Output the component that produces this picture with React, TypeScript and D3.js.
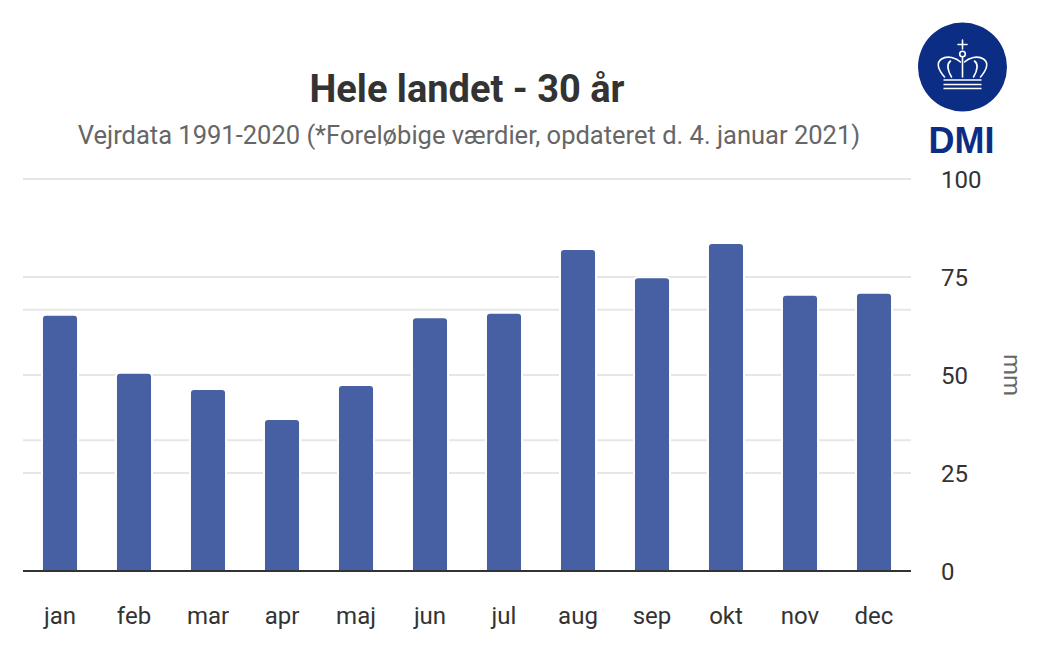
import React from 'react';
import * as d3 from 'd3';

const months = ['jan', 'feb', 'mar', 'apr', 'maj', 'jun', 'jul', 'aug', 'sep', 'okt', 'nov', 'dec'];
const values = [65.1, 50.3, 46.2, 38.5, 47.2, 64.5, 65.6, 81.9, 74.7, 83.4, 70.2, 70.7];
const yTicks = [0, 25, 50, 75, 100];
const secondaryTicks = [0, 1, 2, 3];
const title = 'Hele landet - 30 år';
const subtitle = 'Vejrdata 1991-2020 (*Foreløbige værdier, opdateret d. 4. januar 2021)';
const yTitle = 'mm';

const W = 1041;
const H = 653;
const plot = { left: 23, right: 911, top: 179, bottom: 571 };
const barColor = '#4660a3';
const dmiBlue = '#0c2d84';

function Logo() {
  const cx = 962.5;
  const cy = 67;
  const s = { stroke: '#fff', strokeWidth: 1.6, fill: 'none', strokeLinecap: 'round' as const };
  return (
    <g>
      <circle cx={cx} cy={cy} r={44.5} fill={dmiBlue} />
      <path d={`M${cx},40 V49 M${cx - 4.5},44.5 H${cx + 4.5}`} {...s} />
      <circle cx={cx} cy={54} r={2.8} {...s} />
      <path d={`M${cx},57 V77`} {...s} />
      <path d={`M${cx - 18},77 C${cx - 24},70 ${cx - 27},63 ${cx - 21},59 C${cx - 15},55 ${cx - 6},58 ${cx - 2},62`} {...s} />
      <path d={`M${cx - 11},77 C${cx - 15},70 ${cx - 16},64 ${cx - 12},61`} {...s} />
      <path d={`M${cx + 18},77 C${cx + 24},70 ${cx + 27},63 ${cx + 21},59 C${cx + 15},55 ${cx + 6},58 ${cx + 2},62`} {...s} />
      <path d={`M${cx + 11},77 C${cx + 15},70 ${cx + 16},64 ${cx + 12},61`} {...s} />
      <path d={`M${cx - 19},80 H${cx + 19} M${cx - 19},84.5 H${cx + 19} M${cx - 19},88.5 H${cx + 19}`} {...s} strokeLinecap="butt" />
      <text x={cx - 1} y={153} textAnchor="middle" fontFamily="Liberation Sans, Arial, sans-serif" fontWeight="bold" fontSize={36} fill={dmiBlue}>DMI</text>
    </g>
  );
}

export default function App() {
  const x = d3.scaleBand<string>().domain(months).range([plot.left, plot.right]).paddingInner(0.54).paddingOuter(0.27);
  const y = d3.scaleLinear().domain([0, 100]).range([plot.bottom, plot.top]);
  const y2 = d3.scaleLinear().domain([0, 3]).range([plot.bottom, plot.top]);
  const font = 'Roboto, sans-serif';
  const r = 3;

  const barPath = (m: string, v: number) => {
    const x0 = x(m)!;
    const w = x.bandwidth();
    const yt = y(v);
    const yb = y(0);
    return `M${x0},${yb} V${yt + r} Q${x0},${yt} ${x0 + r},${yt} H${x0 + w - r} Q${x0 + w},${yt} ${x0 + w},${yt + r} V${yb} Z`;
  };

  return (
    <svg width={W} height={H} style={{ position: 'absolute', left: 0, top: 0, background: '#fff' }}>
      <rect width={W} height={H} fill="#fff" />
      <text x={(plot.left + plot.right) / 2} y={102} textAnchor="middle" fontFamily={font} fontWeight="bold" fontSize={38} fill="#333">{title}</text>
      <text x={(plot.left + plot.right) / 2 + 2} y={144} textAnchor="middle" fontFamily={font} fontSize={25.5} fill="#666">{subtitle}</text>
      <Logo />
      <g>
        {secondaryTicks.map((t) => (
          <line key={'s' + t} x1={plot.left} x2={plot.right} y1={y2(t)} y2={y2(t)} stroke="#e6e6e6" strokeWidth={2} />
        ))}
        {yTicks.map((t) => (
          <line key={'g' + t} x1={plot.left} x2={plot.right} y1={y(t)} y2={y(t)} stroke="#e6e6e6" strokeWidth={2} />
        ))}
      </g>
      <g>
        {months.map((m, i) => (
          <path key={m} d={barPath(m, values[i])} fill={barColor} stroke="#fff" strokeWidth={4} style={{ paintOrder: 'stroke' }} />
        ))}
      </g>
      <line x1={plot.left} x2={plot.right} y1={plot.bottom} y2={plot.bottom} stroke="#333" strokeWidth={2} />
      <g>
        {months.map((m) => (
          <text key={m} x={x(m)! + x.bandwidth() / 2} y={624} textAnchor="middle" fontFamily={font} fontSize={24} fill="#333">{m}</text>
        ))}
      </g>
      <g>
        {yTicks.map((t) => (
          <text key={t} x={941} y={y(t) + 8.5} fontFamily={font} fontSize={24} fill="#333">{t}</text>
        ))}
      </g>
      <text transform={`translate(1004,${(plot.top + plot.bottom) / 2}) rotate(90)`} textAnchor="middle" fontFamily={font} fontSize={24} fill="#666">{yTitle}</text>
    </svg>
  );
}
